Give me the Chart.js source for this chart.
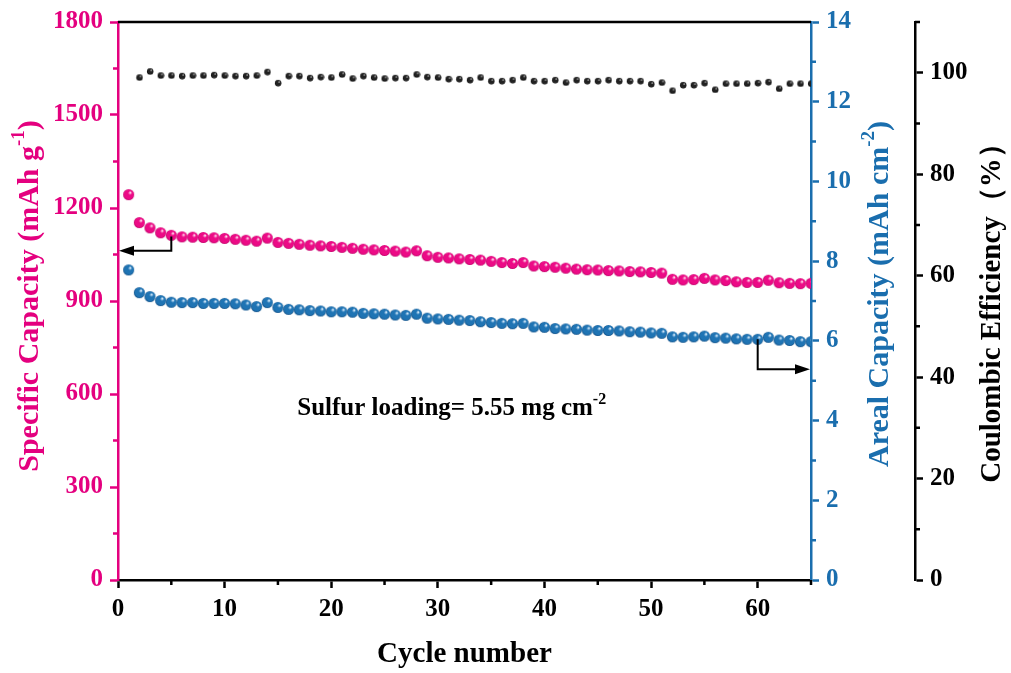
<!DOCTYPE html>
<html>
<head>
<meta charset="utf-8">
<script src="https://cdn.jsdelivr.net/npm/chart.js@4.4.1/dist/chart.umd.min.js"></script>
<style>html,body{margin:0;padding:0;background:#fff}</style>
</head>
<body>
<canvas id="chart" width="1011" height="673"></canvas>
<script>
// cycle numbers
const cycles = [1,2,3,4,5,6,7,8,9,10,11,12,13,14,15,16,17,18,19,20,21,22,23,24,25,26,27,28,29,30,31,32,33,
  34,35,36,37,38,39,40,41,42,43,44,45,46,47,48,49,50,51,52,53,54,55,56,57,58,59,60,61,62,63,64,65];

// specific capacity (mAh g-1), left axis
const specCap = [1243,1153,1136,1120,1112,1107,1106,1105,1104,1102,1099,1096,1093,1103,1089,1086,1083,
  1080,1078,1076,1073,1070,1067,1065,1063,1061,1058,1062,1046,1041,1039,1036,1034,1032,1028,1024,1021,
  1024,1013,1011,1009,1006,1003,1001,1000,998,997,995,994,992,990,970,968,969,973,968,966,962,960,960,
  967,959,957,956,957];

// areal capacity (mAh cm-2), blue axis
const arealCap = [7.78,7.21,7.11,7.01,6.97,6.96,6.96,6.94,6.94,6.94,6.93,6.90,6.86,6.96,6.84,6.79,6.78,
  6.76,6.75,6.73,6.73,6.72,6.69,6.68,6.67,6.65,6.64,6.67,6.57,6.55,6.54,6.52,6.51,6.48,6.46,6.44,6.43,
  6.44,6.35,6.34,6.31,6.30,6.29,6.27,6.26,6.26,6.25,6.23,6.22,6.20,6.19,6.10,6.09,6.10,6.12,6.08,6.07,
  6.05,6.04,6.04,6.09,6.02,6.01,5.98,5.98];

// coulombic efficiency (%), starts at cycle 2
const ceCycles = cycles.slice(1);
const ceVals = [99.1,100.3,99.5,99.5,99.4,99.5,99.5,99.6,99.5,99.4,99.4,99.5,100.2,98.0,99.4,99.4,99.0,
  99.2,99.1,99.7,98.9,99.4,99.1,98.9,99.0,99.0,99.7,99.2,99.1,98.8,98.8,98.6,99.1,98.4,98.4,98.6,99.1,
  98.4,98.4,98.6,98.1,98.6,98.4,98.4,98.6,98.4,98.4,98.4,97.8,98.1,96.5,97.6,97.6,98.0,96.7,97.9,97.9,
  97.9,98.0,98.2,96.9,97.9,97.9,97.9];

const PINK = '#E4007F', BLUE = '#1A6EAE', BLACK = '#000';
const SERIF = "'Liberation Serif', 'Times New Roman', serif";

// shaded sphere markers
function sphere(r, light, base, dark) {
  const c = document.createElement('canvas');
  c.width = c.height = 2 * r + 2;
  const g = c.getContext('2d');
  const m = r + 1;
  const grad = g.createRadialGradient(m + r * 0.35, m - r * 0.4, r * 0.08, m, m, r);
  grad.addColorStop(0, light);
  grad.addColorStop(0.3, base);
  grad.addColorStop(0.8, base);
  grad.addColorStop(1, dark);
  g.fillStyle = grad;
  g.beginPath(); g.arc(m, m, r, 0, Math.PI * 2); g.fill();
  return c;
}
const pinkBall = sphere(5.5, '#ffe0f0', '#EC0A86', '#C00068');
const blueBall = sphere(5.5, '#dcefff', '#1F74B4', '#0E4E86');
const blackBall = sphere(3.2, '#bbbbbb', '#222222', '#000000');

function pts(xs, ys) { return xs.map((x, i) => ({x: x, y: ys[i]})); }

// arrows linking series to their axis
const arrows = [
  {x: 5, from: 1108, to: 1062, axis: 'yL', dir: 'left'},
  {x: 60, from: 6.04, to: 5.29, axis: 'yB', dir: 'right'}
];

function richText(ctx, parts, cx, cy, rot, color, size) {
  ctx.save();
  ctx.translate(cx, cy);
  ctx.rotate(rot);
  ctx.fillStyle = color;
  ctx.textBaseline = 'middle';
  ctx.textAlign = 'left';
  let total = 0;
  parts.forEach(p => {
    ctx.font = 'bold ' + (p.sup ? Math.round(size * 0.62) : size) + 'px ' + SERIF;
    p.w = ctx.measureText(p.t).width;
    total += p.w;
  });
  let x = -total / 2;
  parts.forEach(p => {
    ctx.font = 'bold ' + (p.sup ? Math.round(size * 0.62) : size) + 'px ' + SERIF;
    ctx.fillText(p.t, x, p.sup ? -size * 0.36 : 0);
    x += p.w;
  });
  ctx.restore();
}

function minorTicks(ctx, scale, step, side, len, color) {
  ctx.strokeStyle = color;
  ctx.lineWidth = 2.5;
  ctx.beginPath();
  for (let v = scale.min + step / 2; v <= scale.max + 1e-9; v += step) {
    const p = scale.getPixelForValue(v);
    if (side === 'bottom') { ctx.moveTo(p, scale.top); ctx.lineTo(p, scale.top + len); }
    else if (side === 'left') { ctx.moveTo(scale.right, p); ctx.lineTo(scale.right - len, p); }
    else { ctx.moveTo(scale.left, p); ctx.lineTo(scale.left + len, p); }
  }
  ctx.stroke();
}

const deco = {
  id: 'deco',
  afterDraw(chart) {
    const ctx = chart.ctx, a = chart.chartArea, s = chart.scales;
    ctx.save();
    // top frame
    ctx.strokeStyle = BLACK; ctx.lineWidth = 2.5;
    ctx.beginPath(); ctx.moveTo(a.left, a.top); ctx.lineTo(a.right, a.top); ctx.stroke();

    minorTicks(ctx, s.x, 10, 'bottom', 5, BLACK);
    minorTicks(ctx, s.yL, 300, 'left', 5, PINK);
    minorTicks(ctx, s.yB, 2, 'right', 5, BLUE);
    minorTicks(ctx, s.yCE, 20, 'right', 5, BLACK);

    // arrows
    arrows.forEach(ar => {
      const px = s.x.getPixelForValue(ar.x);
      const y0 = s[ar.axis].getPixelForValue(ar.from);
      const y1 = s[ar.axis].getPixelForValue(ar.to);
      const ex = ar.dir === 'left' ? a.left + 1 : a.right - 1;
      const sg = ar.dir === 'left' ? 1 : -1;
      ctx.strokeStyle = BLACK; ctx.fillStyle = BLACK; ctx.lineWidth = 2;
      ctx.beginPath(); ctx.moveTo(px, y0); ctx.lineTo(px, y1); ctx.lineTo(ex + sg * 10, y1); ctx.stroke();
      ctx.beginPath(); ctx.moveTo(ex, y1); ctx.lineTo(ex + sg * 15, y1 - 5); ctx.lineTo(ex + sg * 15, y1 + 5);
      ctx.closePath(); ctx.fill();
    });

    // annotation
    richText(ctx, [{t: 'Sulfur loading= 5.55 mg cm'}, {t: '-2', sup: true}],
      s.x.getPixelForValue(31.3), s.yL.getPixelForValue(553), 0, BLACK, 25);

    // axis titles
    const midY = (a.top + a.bottom) / 2;
    richText(ctx, [{t: 'Specific Capacity (mAh g'}, {t: '-1', sup: true}, {t: ')'}],
      s.yL.left + 30, midY - 5, -Math.PI / 2, PINK, 30);
    richText(ctx, [{t: 'Areal Capacity (mAh cm'}, {t: '-2', sup: true}, {t: ')'}],
      s.yB.left + 69, midY - 7, -Math.PI / 2, BLUE, 30);
    richText(ctx, [{t: 'Coulombic Efficiency（%）'}],
      s.yCE.left + 78, midY + 5, -Math.PI / 2, BLACK, 29);
    richText(ctx, [{t: 'Cycle number'}], (a.left + a.right) / 2, a.bottom + 75, 0, BLACK, 29);
    ctx.restore();
  }
};

const tickFont = {family: SERIF, size: 25, weight: 'bold'};

function axis(pos, min, max, step, color, width, weight) {
  return {
    type: 'linear', position: pos, min: min, max: max, weight: weight || 0,
    afterFit: sc => { if (pos === 'bottom') sc.height = width; else sc.width = width; },
    ticks: {stepSize: step, includeBounds: false, color: color, font: tickFont, padding: 7,
      callback: v => String(v)},
    grid: {drawOnChartArea: false, tickLength: 8, tickWidth: 2.5, tickColor: color},
    border: {color: color, width: 2.5}
  };
}

new Chart(document.getElementById('chart'), {
  type: 'scatter',
  data: {
    datasets: [
      {label: 'CE', data: pts(ceCycles, ceVals), yAxisID: 'yCE', pointStyle: blackBall, pointRadius: 3, clip: 0},
      {label: 'Specific', data: pts(cycles, specCap), yAxisID: 'yL', pointStyle: pinkBall, pointRadius: 5, clip: 0},
      {label: 'Areal', data: pts(cycles, arealCap), yAxisID: 'yB', pointStyle: blueBall, pointRadius: 5, clip: 0}
    ]
  },
  options: {
    responsive: false,
    animation: false,
    devicePixelRatio: 1,
    layout: {padding: {top: 22, right: 0, left: 0, bottom: 0}},
    plugins: {legend: {display: false}, tooltip: {enabled: false}},
    scales: {
      x: axis('bottom', 0, 65, 10, BLACK, 93),
      yL: axis('left', 0, 1800, 300, PINK, 118),
      yB: axis('right', 0, 14, 2, BLUE, 104, 0),
      yCE: axis('right', 0, 110, 20, BLACK, 96, 1)
    }
  },
  plugins: [deco]
});
</script>
</body>
</html>
